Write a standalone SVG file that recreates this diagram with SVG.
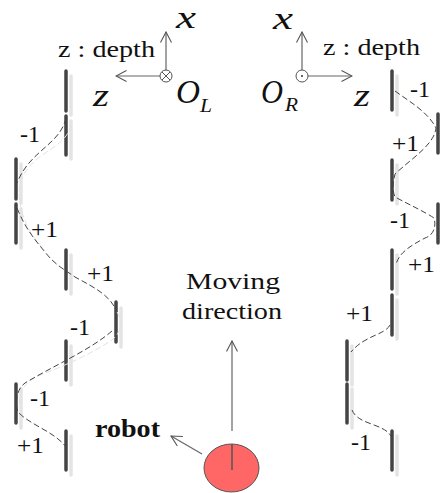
<svg xmlns="http://www.w3.org/2000/svg" width="441" height="493" viewBox="0 0 441 493">
<style>
text{font-family:"Liberation Serif","Times New Roman",serif;fill:#111}
.t{font-size:24px}
.v{font-size:31px;font-style:italic}
.o{font-size:34px;font-style:italic}
.s{font-size:19px;font-style:italic}
.bar{stroke:#444;stroke-width:3.5;stroke-linecap:round;fill:none}
.ghost{stroke:#e4e4e4;stroke-width:3.5;stroke-linecap:round;fill:none}
.d{stroke:#444;stroke-width:1;stroke-dasharray:6 3;fill:none}
.g{stroke:#e2e2e2;stroke-width:1;stroke-dasharray:6 3;fill:none}
.a{stroke:#666;stroke-width:1.2;fill:none}
</style>
<defs>
<marker id="h" viewBox="-11 -6 12 12" markerWidth="12" markerHeight="12" markerUnits="userSpaceOnUse" refX="0" refY="0" orient="auto"><path d="M-10.500 -5.500L0 0L-10.500 5.500" fill="none" stroke="#555" stroke-width="1.100"/></marker>
</defs>
<g id="left-obstacles">
<path class="ghost" d="M71 76V115M71 121V159M21 164V203M21 209V248M71 255V294M121 308V347M71 346V385M21 389V428M71 436V475"/>
<path class="bar" d="M66 71V111M66 116V155M16 159V199M16 204V243M66 250V289M116 302V342M66 341V380M16 384V423M66 431V470"/>
</g>
<g id="right-obstacles">
<path class="ghost" d="M397 76V115M397 165V204M397 255V294M397 300V339M352 346V385M352 389V428M397 436V475"/>
<path class="bar" d="M392 71V110M438 114V153M392 160V200M438 204V243M392 250V289M392 295V335M347 341V380M347 384V423M392 431V470"/>
</g>
<g id="connectors">
<path class="g" d="M71 125C65 150 35 150 22 178C17 190 20 202 21 209C28 232 35 240 45 250"/>
<path class="d" d="M66 118C60 145 30 150 17 183M17 208C25 228 35 240 45 252C55 265 65 270 75 277C95 288 110 295 117 312"/>
<path class="g" d="M117 312C125 325 118 335 112 340C95 352 60 368 40 375C25 382 17 392 20 408"/>
<path class="d" d="M112 331C90 350 55 365 25 383C18 388 14 400 18 412C30 425 55 432 66 447"/>
<path class="d" d="M395 91C410 102 428 112 436 128C434 145 412 158 395 174C392 186 393 192 395 197C410 205 425 212 434 218C437 228 432 236 425 238C410 246 400 252 396 264"/>
<path class="d" d="M390 325C385 335 365 335 351 352M352 410C358 425 383 423 391 436"/>
</g>
<g id="left-frame">
<path class="a" d="M166 71V32" marker-end="url(#h)"/>
<path class="a" d="M160 76H116" marker-end="url(#h)"/>
<circle cx="166" cy="76" r="6" fill="#fff" stroke="#555"/>
<path d="M162 72L170 80M170 72L162 80" stroke="#555" fill="none"/>
<text class="t" x="58" y="57" textLength="97" lengthAdjust="spacingAndGlyphs">z : depth</text>
<text class="v" x="176" y="28" textLength="20" lengthAdjust="spacingAndGlyphs">x</text>
<text class="v" x="93" y="106" textLength="16" lengthAdjust="spacingAndGlyphs">z</text>
<text class="o" x="176" y="103" textLength="24" lengthAdjust="spacingAndGlyphs">O</text>
<text class="s" x="200" y="112" textLength="12" lengthAdjust="spacingAndGlyphs">L</text>
</g>
<g id="right-frame">
<path class="a" d="M302 70V32" marker-end="url(#h)"/>
<path class="a" d="M308 76H352" marker-end="url(#h)"/>
<circle cx="302" cy="76" r="6" fill="#fff" stroke="#555"/>
<circle cx="302" cy="76" r="1" fill="#333"/>
<text class="t" x="323" y="55" textLength="97" lengthAdjust="spacingAndGlyphs">z : depth</text>
<text class="v" x="273" y="29" textLength="20" lengthAdjust="spacingAndGlyphs">x</text>
<text class="v" x="354" y="106" textLength="16" lengthAdjust="spacingAndGlyphs">z</text>
<text class="o" x="261" y="103" textLength="22" lengthAdjust="spacingAndGlyphs">O</text>
<text class="s" x="285" y="111" textLength="13" lengthAdjust="spacingAndGlyphs">R</text>
</g>
<g id="labels-left">
<text class="t" x="20" y="142" textLength="20" lengthAdjust="spacingAndGlyphs">-1</text>
<text class="t" x="31" y="237" textLength="27" lengthAdjust="spacingAndGlyphs">+1</text>
<text class="t" x="87" y="281" textLength="27" lengthAdjust="spacingAndGlyphs">+1</text>
<text class="t" x="70" y="335" textLength="20" lengthAdjust="spacingAndGlyphs">-1</text>
<text class="t" x="30" y="406" textLength="20" lengthAdjust="spacingAndGlyphs">-1</text>
<text class="t" x="17" y="453" textLength="27" lengthAdjust="spacingAndGlyphs">+1</text>
</g>
<g id="labels-right">
<text class="t" x="410" y="97" textLength="20" lengthAdjust="spacingAndGlyphs">-1</text>
<text class="t" x="392" y="151" textLength="27" lengthAdjust="spacingAndGlyphs">+1</text>
<text class="t" x="390" y="228" textLength="20" lengthAdjust="spacingAndGlyphs">-1</text>
<text class="t" x="408" y="272" textLength="27" lengthAdjust="spacingAndGlyphs">+1</text>
<text class="t" x="346" y="321" textLength="27" lengthAdjust="spacingAndGlyphs">+1</text>
<text class="t" x="351" y="450" textLength="20" lengthAdjust="spacingAndGlyphs">-1</text>
</g>
<g id="moving-direction">
<text class="t" x="186" y="289" textLength="94" lengthAdjust="spacingAndGlyphs">Moving</text>
<text class="t" x="182" y="319" textLength="100" lengthAdjust="spacingAndGlyphs">direction</text>
<path class="a" d="M232 431V341" marker-end="url(#h)"/>
</g>
<g id="robot">
<ellipse cx="231.500" cy="468" rx="27.500" ry="24" fill="#ff6666" stroke="#555"/>
<path d="M232 444V470" stroke="#555" stroke-width="1.500" fill="none"/>
<path d="M202 454L171 436" class="a" stroke-width="1.500" marker-end="url(#h)"/>
<text x="95" y="437" font-size="25" font-weight="bold" textLength="65" lengthAdjust="spacingAndGlyphs">robot</text>
</g>
</svg>
